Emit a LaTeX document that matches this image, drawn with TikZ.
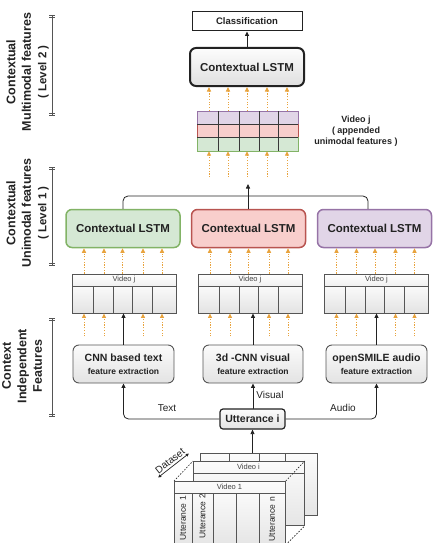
\documentclass[tikz,border=0pt]{standalone}
\usepackage{fontspec}
\setmainfont{Liberation Sans}
\usetikzlibrary{arrows.meta}
\definecolor{gfill}{HTML}{D5E8D4}\definecolor{gline}{HTML}{82B366}
\definecolor{rfill}{HTML}{F8CECC}\definecolor{rline}{HTML}{B85450}
\definecolor{pfill}{HTML}{E1D5E7}\definecolor{pline}{HTML}{9673A6}
\definecolor{dotc}{HTML}{E8A33D}
\definecolor{ink}{HTML}{222222}
\definecolor{edge}{HTML}{555555}
\newcommand{\fs}[2]{\fontsize{#1}{#2}\selectfont}
\begin{document}
\begin{tikzpicture}[x=1pt,y=-1pt,
  every node/.style={text=ink},
  conn/.style={draw=ink, line width=0.8pt},
  arr/.style={conn, -{Triangle[length=4.5pt,width=4pt]}},
  dotarr/.style={draw=dotc, line width=0.9pt, dash pattern=on 1.2pt off 1.5pt, -{Triangle[length=4.5pt,width=4pt]}},
  lstmbox/.style={rounded corners=6pt, minimum width=114pt, minimum height=38pt, line width=1.5pt, font=\bfseries\fs{11.5}{13}},
  featbox/.style={draw=edge, line width=0.9pt, top color=gray!3, bottom color=gray!22, rounded corners=6pt, minimum width=101pt, minimum height=38pt, align=center, font=\bfseries\fs{10.5}{13}},
  sheet/.style={draw=edge, line width=0.8pt, top color=gray!3, bottom color=gray!20, inner sep=0pt, anchor=north west},
  sidelabel/.style={rotate=90, align=center, font=\bfseries\fs{12.5}{15.5}},
  edgelab/.style={font=\fs{10}{12}},
  axis/.style={draw=edge, line width=0.8pt},
  cellline/.style={draw=edge, line width=0.8pt}
]
\useasboundingbox (0,0) rectangle (433,543);
\clip (0,0) rectangle (433,543);

% ---------- left side labels and axes ----------
\node[sidelabel] (lab2) at (27.5,72) {Contextual\\Multimodal features\\{\fs{11.5}{15.5}( Level 2 )}};
\node[sidelabel] (lab1) at (27.5,213) {Contextual\\Unimodal features\\{\fs{11.5}{15.5}( Level 1 )}};
\node[sidelabel] (lab0) at (22,366) {Context\\Independent\\Features};
\foreach \ya/\yb in {15/115, 167/265, 318/416} {
  \draw[axis] (52,\ya) -- (52,\yb);
  \draw[axis, line width=0.6pt] (49,\ya) -- (55,\ya) (49,\ya+2) -- (55,\ya+2)
                                (49,\yb) -- (55,\yb) (49,\yb-2) -- (55,\yb-2);
}

% ---------- top level ----------
\node[draw=ink, line width=1pt, fill=white, minimum width=110pt, minimum height=19pt, font=\bfseries\fs{9.5}{11}] (cls) at (247,21.5) {Classification};
\node[lstmbox, draw=ink, line width=2pt, top color=gray!2, bottom color=gray!25] (lstm) at (247,67) {Contextual LSTM};
\draw[arr] (lstm) -- (cls);

% appended grid
\node[minimum width=101pt, minimum height=40pt, inner sep=0pt] (grid) at (247.5,131) {};
\filldraw[fill=pfill, draw=pline, line width=0.8pt] (197,111) rectangle (298,124.3);
\filldraw[fill=rfill, draw=rline, line width=0.8pt] (197,124.3) rectangle (298,137.7);
\filldraw[fill=gfill, draw=gline, line width=0.8pt] (197,137.7) rectangle (298,151);
\draw[draw=ink!90, line width=0.9pt] (197,124.3) -- (298,124.3) (197,137.7) -- (298,137.7);
\foreach \x in {218,239,259,278} \draw[draw=ink!90, line width=0.9pt] (\x,111) -- (\x,151);
\node[align=center, font=\bfseries\fs{9}{11}] (gridlab) at (356,131) {Video j\\( appended\\unimodal features )};

\foreach \d in {-38.5,-19.5,-0.5,19.5,39.5} {
  \draw[dotarr] ([xshift=\d pt]grid.north) -- ([xshift=\d pt]grid.north |- lstm.south);
  \draw[dotarr] ([xshift=\d pt, yshift=-26pt]grid.south) -- ([xshift=\d pt]grid.south);
}

% ---------- unimodal LSTMs ----------
\node[lstmbox, draw=gline, fill=gfill] (ug) at (123,228.5) {Contextual LSTM};
\node[lstmbox, draw=rline, fill=rfill] (ur) at (248.5,228.5) {Contextual LSTM};
\node[lstmbox, draw=pline, fill=pfill] (up) at (374.5,228.5) {Contextual LSTM};
\coordinate (mj) at (248,196);
\coordinate (mtip) at (248,184);
\draw[conn, rounded corners=5pt] (ug.north) |- (mj) -| ([xshift=-6.5pt]up.north);
\draw[arr] (ur.north -| mtip) -- (mtip);

% ---------- video j boxes ----------
\foreach \n/\cx in {vg/124, vr/250, vp/376.5} {
  \shade[top color=white, bottom color=gray!12] (\cx-52,274) rectangle (\cx+52,286);
  \foreach \a/\b in {0/21,21/41,41/60,60/80,80/104}
    \shade[top color=gray!4, bottom color=gray!22] (\cx-52+\a,286) rectangle (\cx-52+\b,313);
  \node[draw=edge, line width=0.8pt, minimum width=104pt, minimum height=39pt, inner sep=0pt] (\n) at (\cx,293.5) {};
  \draw[cellline] (\cx-52,286) -- (\cx+52,286);
  \foreach \a in {21,41,60,80} \draw[cellline] (\cx-52+\a,286) -- (\cx-52+\a,313);
  \node[font=\fs{7.5}{9}, text=ink!85] (\n-lab) at (\cx,280) {Video j};
}
\foreach \v/\l in {vg/ug, vr/ur, vp/up} {
  \foreach \d in {-40,-20,-1.5,19,38}
    \draw[dotarr] ([xshift=\d pt]\v.north) -- ([xshift=\d pt]\v.north |- \l.south);
  \foreach \d in {-40,-20,19,38}
    \draw[dotarr] ([xshift=\d pt, yshift=-23pt]\v.south) -- ([xshift=\d pt]\v.south);
}

% ---------- feature extraction ----------
\node[featbox] (fc) at (123.5,364) {CNN based text\\{\fs{8.5}{13}feature extraction}};
\node[featbox, minimum width=100pt] (fv) at (253,364) {3d -CNN visual\\{\fs{8.5}{13}feature extraction}};
\node[featbox] (fa) at (376.5,364) {openSMILE audio\\{\fs{8.5}{13}feature extraction}};
\draw[arr] (fc.north) -- (fc.north |- vg.south);
\draw[arr] (fv.north) -- (fv.north |- vr.south);
\draw[arr] (fa.north) -- (fa.north |- vp.south);

% ---------- utterance ----------
\node[draw=ink, line width=1.2pt, top color=gray!3, bottom color=gray!22, rounded corners=3pt, minimum width=65pt, minimum height=20pt, inner sep=0pt, font=\bfseries\fs{10.5}{12}] (utt) at (252.5,419) {Utterance i};
\draw[arr, rounded corners=5pt] (utt.west) -| (fc.south);
\draw[arr, rounded corners=5pt] (utt.east) -| (fa.south);
\draw[arr] (utt.north) -- (utt.north -| fv.south) -- (fv.south);
\node[edgelab] (ltext) at (167,408) {Text};
\node[edgelab] (lvis) at (270,395) {Visual};
\node[edgelab] (laud) at (343,408) {Audio};

% ---------- dataset stack ----------
\node[sheet, minimum width=117pt, minimum height=62pt] (back) at (200,453) {};
\foreach \x in {229,259,285} \draw[cellline] (\x,453) -- (\x,515);
\node[sheet, minimum width=111pt, minimum height=64pt] (middle) at (193,461) {};
\draw[cellline] (193,473) -- (304,473);
\node[font=\fs{7.5}{9}, text=ink!85] (vi) at (248.5,467) {Video i};
\node[sheet, minimum width=111pt, minimum height=63pt] (front) at (174,481) {};
\foreach \a/\b in {174/192,192/213,213/236,236/259,259/285}
  \shade[top color=gray!4, bottom color=gray!20] (\a,493) rectangle (\b,544);
\draw[cellline] (174,481) rectangle (285,544);
\draw[cellline] (174,493) -- (285,493);
\foreach \x in {192,213,236,259} \draw[cellline] (\x,493) -- (\x,544);
\node[font=\fs{7.5}{9}, text=ink!85] (v1) at (229.5,487) {Video 1};
\node[rotate=90, anchor=east, inner sep=0pt, font=\fs{8.5}{10}] (u1) at (183,496) {Utterance 1};
\node[rotate=90, anchor=east, inner sep=0pt, font=\fs{8.5}{10}] (u2) at (202.5,494) {Utterance 2};
\node[rotate=90, anchor=east, inner sep=0pt, font=\fs{8.5}{10}] (un) at (272,497) {Utterance n};
\draw[ink, line width=0.6pt, dash pattern=on 1.5pt off 1.5pt]
  (front.north west) -- (middle.north west)
  (front.north east) -- (middle.north east)
  (front.south east) -- (middle.south east);
\draw[arr] (utt.south |- back.north) -- (utt.south);
\node[rotate=38, inner sep=2pt, font=\fs{10}{12}] (ds) at (170,461) {Dataset};
\draw[ink, line width=0.7pt, {Triangle[length=3pt,width=3pt]}-{Triangle[length=3pt,width=3pt]}] (ds.south west) -- (ds.south east);
\end{tikzpicture}
\end{document}
